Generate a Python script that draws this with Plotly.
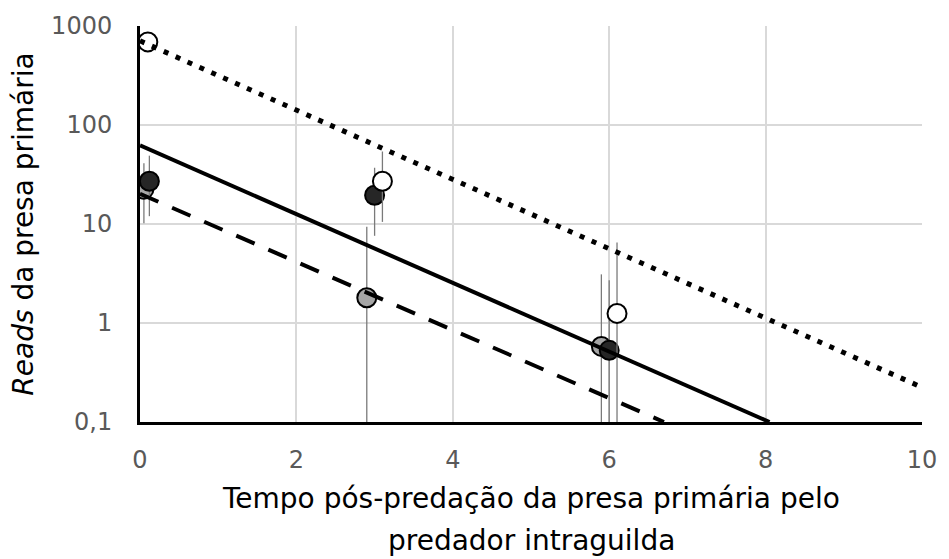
import plotly.graph_objects as go

# Observations (time after predation, reads) with upper/lower bounds
white_x = [0.1, 3.1, 6.1]
white_y = [690, 27, 1.25]
white_hi = [690, 54, 6.5]
white_lo = [690, 10.5, 0.01]

black_x = [0.12, 3.0, 6.0]
black_y = [27, 19.5, 0.53]
black_hi = [49, 37, 2.7]
black_lo = [12, 7.6, 0.01]

gray_x = [0.05, 2.9, 5.9]
gray_y = [22.5, 1.8, 0.58]
gray_hi = [41, 9.4, 3.1]
gray_lo = [10.2, 0.01, 0.01]

# Exponential trend lines (straight on the log axis), given by end points
dot_x, dot_y = [0, 10], [708, 0.224]
solid_x, solid_y = [0, 8.05], [62.2, 0.1]
dash_x, dash_y = [0, 6.7], [20.2, 0.1]

y_tickvals = [0.1, 1, 10, 100, 1000]
y_ticktext = ["0,1", "1", "10", "100", "1000"]
x_tickvals = [0, 2, 4, 6, 8, 10]

FONT = "DejaVu Sans"


def series(x, y, hi, lo, fill):
    return go.Scatter(
        x=x, y=y, mode="markers", showlegend=False,
        marker=dict(size=19, color=fill, line=dict(color="black", width=2)),
        error_y=dict(
            type="data", symmetric=False,
            array=[h - v for h, v in zip(hi, y)],
            arrayminus=[v - l for v, l in zip(y, lo)],
            color="#7a7a7a", thickness=1.3, width=0,
        ),
    )


fig = go.Figure()
fig.add_trace(series(gray_x, gray_y, gray_hi, gray_lo, "#a6a6a6"))
fig.add_trace(series(black_x, black_y, black_hi, black_lo, "#262626"))
fig.add_trace(series(white_x, white_y, white_hi, white_lo, "#ffffff"))

fig.add_trace(go.Scatter(x=dot_x, y=dot_y, mode="lines", showlegend=False,
                         line=dict(color="black", width=5, dash="5px,8px")))
fig.add_trace(go.Scatter(x=solid_x, y=solid_y, mode="lines", showlegend=False,
                         line=dict(color="black", width=4)))
fig.add_trace(go.Scatter(x=dash_x, y=dash_y, mode="lines", showlegend=False,
                         line=dict(color="black", width=4, dash="20px,15px")))

fig.update_layout(
    width=949, height=559,
    margin=dict(l=140, r=20, t=24, b=137),
    paper_bgcolor="white", plot_bgcolor="white",
    font=dict(family=FONT, color="black"),
    xaxis=dict(
        range=[0, 10], tickvals=x_tickvals,
        showgrid=True, gridcolor="#d9d9d9", gridwidth=1.5,
        showline=True, linecolor="black", linewidth=3,
        zeroline=False, ticks="", ticklabelstandoff=14,
        tickfont=dict(family=FONT, size=24, color="#595959"),
    ),
    yaxis=dict(
        type="log", range=[-1, 3],
        tickvals=y_tickvals, ticktext=y_ticktext,
        showgrid=True, gridcolor="#d9d9d9", gridwidth=1.5,
        showline=True, linecolor="black", linewidth=3,
        zeroline=False, ticks="", ticklabelstandoff=20,
        tickfont=dict(family=FONT, size=24, color="#595959"),
        title=dict(text="<i>Reads</i> da presa primária", standoff=10,
                   font=dict(family=FONT, size=28, color="black")),
    ),
    annotations=[
        dict(text="Tempo pós-predação da presa primária pelo",
             xref="paper", yref="paper", x=0.5, y=-0.193,
             xanchor="center", yanchor="middle", showarrow=False,
             font=dict(family=FONT, size=28, color="black")),
        dict(text="predador intraguilda",
             xref="paper", yref="paper", x=0.5, y=-0.3,
             xanchor="center", yanchor="middle", showarrow=False,
             font=dict(family=FONT, size=28, color="black")),
    ],
)

fig.write_html("out.html")
